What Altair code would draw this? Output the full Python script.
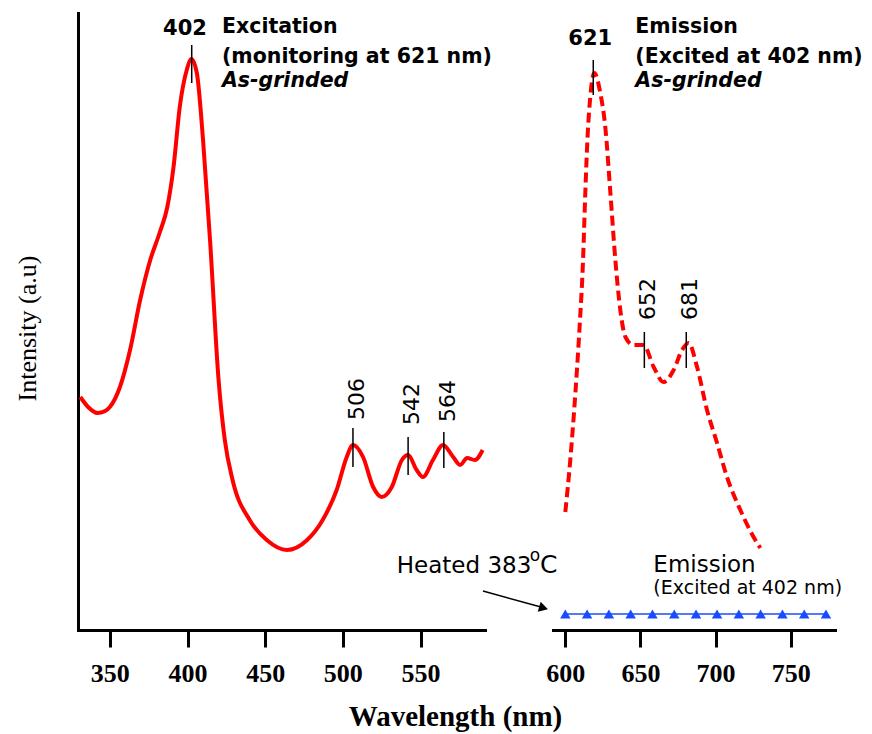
import altair as alt
import pandas as pd

# ---------------- data ----------------
exc_x = [331, 336, 342, 347, 350, 356.5, 363, 369.5, 376, 382, 387, 391, 395, 399.5, 402.5, 406, 410, 414.5,
         420, 424, 429, 440, 451, 464, 477, 487, 496, 502.5, 506.5, 513, 519.5, 525, 531.5, 538, 542, 547.5,
         551.5, 558, 564.5, 571, 575.5, 580, 585, 590]
exc_y = [233, 223, 217, 219, 223, 243, 280, 330, 370, 397, 423, 463, 523, 560, 571, 557, 490, 390,
         250, 190, 150, 110, 90, 80, 90, 110, 140, 173, 185, 173, 143, 133, 143, 170, 175, 160,
         153, 170, 185, 173, 165, 172, 170, 180]

em_x = [600, 603.3, 606.7, 609.5, 611.8, 613.3, 614.8, 616.6, 619.3, 623.3, 626.6, 630, 633.3, 636.6, 640,
        645.3, 652.1, 658.8, 665.4, 672.1, 677.7, 682.1, 687.7, 694.3, 701, 707.6, 716.5, 725.3, 729.8]
em_y = [118, 170, 237, 303, 370, 437, 493, 533, 557, 537, 503, 437, 370, 320, 293,
        285, 285, 263, 248, 260, 280, 287, 263, 220, 187, 153, 120, 93, 82]

heat_x = [600, 614.5, 629, 643.5, 658, 672.5, 687, 701, 715.5, 730, 744.5, 759, 773.5]
heat_y = [16, 16, 16, 16, 16, 16, 16, 16, 16, 16, 16, 16, 16]

# peak marker ticks
left_tick_x = [402.7, 506.5, 542, 565]
left_tick_y1 = [547, 163, 155, 162]
left_tick_y2 = [585, 202, 193, 198]
right_tick_x = [618.6, 652.6, 680.5]
right_tick_y1 = [535, 262, 262]
right_tick_y2 = [570, 298, 298]

# rotated peak labels
left_rot_lab = ["506", "542", "564"]
left_rot_x = [506.5, 542, 565]
left_rot_y = [210, 205, 208]
right_rot_lab = ["652", "681"]
right_rot_x = [652.6, 680.5]
right_rot_y = [310, 310]

# header texts
left_bold_txt = ["402", "Excitation", "(monitoring at 621 nm)"]
left_bold_x = [398.4, 422.2, 422.2]
left_bold_y = [595, 597, 567]
left_bold_align = ["center", "left", "left"]
right_bold_txt = ["621", "Emission", "(Excited at 402 nm)"]
right_bold_x = [616.6, 646.6, 646.6]
right_bold_y = [585, 597, 567]
right_bold_align = ["center", "left", "left"]
italic_txt = ["As-grinded"]
left_italic_x = [422.2]
right_italic_x = [646.6]
italic_y = [543]

# heated annotation
heated_txt = ["Heated 383"]
heated_x = [621.3]
heated_y = [57]
sup_txt = ["o"]
sup_x = [623.6]
sup_y = [69]
c_txt = ["C"]
c_x = [626.9]
c_y = [57]
arrow_x = [590.2, 627.5]
arrow_y = [39, 23]
arrow_head_x = [629.2]
arrow_head_y = [22]

em2_txt = ["Emission"]
em2_x = [658.6]
em2_y = [58]
em3_txt = ["(Excited at 402 nm)"]
em3_x = [658.6]
em3_y = [36]

SANS = "DejaVu Sans"
SERIF = "Liberation Serif"

ys = alt.Scale(domain=[0, 617], nice=False, zero=False)
xl = alt.Scale(domain=[329.5, 591.5], nice=False, zero=False)
xr = alt.Scale(domain=[591.8, 779.5], nice=False, zero=False)

xaxis_common = dict(domainColor="black", domainWidth=3, domainCap="square", tickColor="black", tickWidth=3,
                    tickSize=17, labelFont=SERIF, labelFontSize=26, labelFontWeight="bold",
                    labelColor="black", labelPadding=13, grid=False)

left_x_axis = alt.Axis(values=[350, 400, 450, 500, 550], title="Wavelength (nm)", titleFont=SERIF,
                       titleFontSize=29, titleFontWeight="bold", titleColor="black", titleX=377, titleY=95,
                       titleBaseline="alphabetic", titleAlign="center", **xaxis_common)
right_x_axis = alt.Axis(values=[600, 650, 700, 750], title=None, **xaxis_common)
left_y_axis = alt.Axis(title="Intensity (a.u)", ticks=False, labels=False, domainColor="black", domainWidth=3,
                       domainCap="square", grid=False, titleFont=SERIF, titleFontSize=26, titleFontWeight="normal",
                       titleColor="black", titleX=-51, titleY=315, titleAngle=270, titleBaseline="middle",
                       titleAlign="center")


def df(**cols):
    return pd.DataFrame(cols)


def X(scale, axis=None):
    if axis is None:
        return alt.X("x:Q", scale=scale)
    return alt.X("x:Q", scale=scale, axis=axis)


# ---------------- left panel ----------------
exc = alt.Chart(df(x=exc_x, y=exc_y)).mark_line(color="#ff0000", strokeWidth=4, interpolate="monotone").encode(
    x=X(xl, left_x_axis), y=alt.Y("y:Q", scale=ys, axis=left_y_axis))

l_ticks = alt.Chart(df(x=left_tick_x, y=left_tick_y1, y2=left_tick_y2)).mark_rule(
    color="black", strokeWidth=1.5).encode(x=X(xl), y=alt.Y("y:Q", scale=ys), y2="y2:Q")

l_rot = alt.Chart(df(x=left_rot_x, y=left_rot_y, t=left_rot_lab)).mark_text(
    font=SANS, fontSize=22, angle=270, align="left", baseline="middle", dy=4, color="black").encode(
    x=X(xl), y=alt.Y("y:Q", scale=ys), text="t:N")

l_bold = alt.Chart(df(x=left_bold_x, y=left_bold_y, t=left_bold_txt, a=left_bold_align)).transform_filter(
    "datum.a == 'center'").mark_text(font=SANS, fontSize=21, fontWeight="bold", align="center",
                                     baseline="alphabetic", color="black").encode(
    x=X(xl), y=alt.Y("y:Q", scale=ys), text="t:N")
l_bold2 = alt.Chart(df(x=left_bold_x, y=left_bold_y, t=left_bold_txt, a=left_bold_align)).transform_filter(
    "datum.a == 'left'").mark_text(font=SANS, fontSize=20.5, fontWeight="bold", align="left",
                                   baseline="alphabetic", color="black").encode(
    x=X(xl), y=alt.Y("y:Q", scale=ys), text="t:N")
l_ital = alt.Chart(df(x=left_italic_x, y=italic_y, t=italic_txt)).mark_text(
    font=SANS, fontSize=20.5, fontWeight="bold", fontStyle="italic", align="left", baseline="alphabetic",
    color="black").encode(x=X(xl), y=alt.Y("y:Q", scale=ys), text="t:N")

heated = alt.Chart(df(x=heated_x, y=heated_y, t=heated_txt)).mark_text(
    font=SANS, fontSize=23, align="right", baseline="alphabetic", color="black").encode(
    x=X(xl), y=alt.Y("y:Q", scale=ys), text="t:N")
sup = alt.Chart(df(x=sup_x, y=sup_y, t=sup_txt)).mark_text(
    font=SANS, fontSize=17, align="center", baseline="alphabetic", color="black").encode(
    x=X(xl), y=alt.Y("y:Q", scale=ys), text="t:N")
cc = alt.Chart(df(x=c_x, y=c_y, t=c_txt)).mark_text(
    font=SANS, fontSize=25, align="left", baseline="alphabetic", color="black").encode(
    x=X(xl), y=alt.Y("y:Q", scale=ys), text="t:N")
arrow = alt.Chart(df(x=arrow_x, y=arrow_y)).mark_line(color="black", strokeWidth=1.5).encode(
    x=X(xl), y=alt.Y("y:Q", scale=ys))
arrow_head = alt.Chart(df(x=arrow_head_x, y=arrow_head_y)).mark_point(
    shape="triangle-right", filled=True, color="black", opacity=1, size=110, angle=16).encode(
    x=X(xl), y=alt.Y("y:Q", scale=ys))

left = alt.layer(exc, l_ticks, l_rot, l_bold, l_bold2, l_ital, heated, sup, cc, arrow, arrow_head).properties(
    width=407, height=617)

# ---------------- right panel ----------------
em = alt.Chart(df(x=em_x, y=em_y)).mark_line(color="#ff0000", strokeWidth=4, strokeDash=[10, 5],
                                             interpolate="monotone").encode(
    x=X(xr, right_x_axis), y=alt.Y("y:Q", scale=ys, axis=None))

heat_line = alt.Chart(df(x=heat_x, y=heat_y)).mark_line(color="#1a4cff", strokeWidth=1.5).encode(
    x=X(xr), y=alt.Y("y:Q", scale=ys))
heat_pts = alt.Chart(df(x=heat_x, y=heat_y)).mark_point(
    shape="triangle-up", filled=True, color="#1a4cff", opacity=1, size=110).encode(
    x=X(xr), y=alt.Y("y:Q", scale=ys))

r_ticks = alt.Chart(df(x=right_tick_x, y=right_tick_y1, y2=right_tick_y2)).mark_rule(
    color="black", strokeWidth=1.5).encode(x=X(xr), y=alt.Y("y:Q", scale=ys), y2="y2:Q")
r_rot = alt.Chart(df(x=right_rot_x, y=right_rot_y, t=right_rot_lab)).mark_text(
    font=SANS, fontSize=22, angle=270, align="left", baseline="middle", dy=4, color="black").encode(
    x=X(xr), y=alt.Y("y:Q", scale=ys), text="t:N")

r_bold = alt.Chart(df(x=right_bold_x, y=right_bold_y, t=right_bold_txt, a=right_bold_align)).transform_filter(
    "datum.a == 'center'").mark_text(font=SANS, fontSize=21, fontWeight="bold", align="center",
                                     baseline="alphabetic", color="black").encode(
    x=X(xr), y=alt.Y("y:Q", scale=ys), text="t:N")
r_bold2 = alt.Chart(df(x=right_bold_x, y=right_bold_y, t=right_bold_txt, a=right_bold_align)).transform_filter(
    "datum.a == 'left'").mark_text(font=SANS, fontSize=20.5, fontWeight="bold", align="left",
                                   baseline="alphabetic", color="black").encode(
    x=X(xr), y=alt.Y("y:Q", scale=ys), text="t:N")
r_ital = alt.Chart(df(x=right_italic_x, y=italic_y, t=italic_txt)).mark_text(
    font=SANS, fontSize=20.5, fontWeight="bold", fontStyle="italic", align="left", baseline="alphabetic",
    color="black").encode(x=X(xr), y=alt.Y("y:Q", scale=ys), text="t:N")

em2 = alt.Chart(df(x=em2_x, y=em2_y, t=em2_txt)).mark_text(
    font=SANS, fontSize=23, align="left", baseline="alphabetic", color="black").encode(
    x=X(xr), y=alt.Y("y:Q", scale=ys), text="t:N")
em3 = alt.Chart(df(x=em3_x, y=em3_y, t=em3_txt)).mark_text(
    font=SANS, fontSize=19, align="left", baseline="alphabetic", color="black").encode(
    x=X(xr), y=alt.Y("y:Q", scale=ys), text="t:N")

right = alt.layer(em, heat_line, heat_pts, r_ticks, r_rot, r_bold, r_bold2, r_ital, em2, em3).properties(
    width=282, height=617)

chart = alt.hconcat(left, right, spacing=68, bounds="flush").properties(
    padding={"left": 14, "top": 13, "right": 5, "bottom": 5}
).configure(background="white").configure_view(stroke=None)

chart.save("out.html", embed_options={"renderer": "svg", "actions": False})
